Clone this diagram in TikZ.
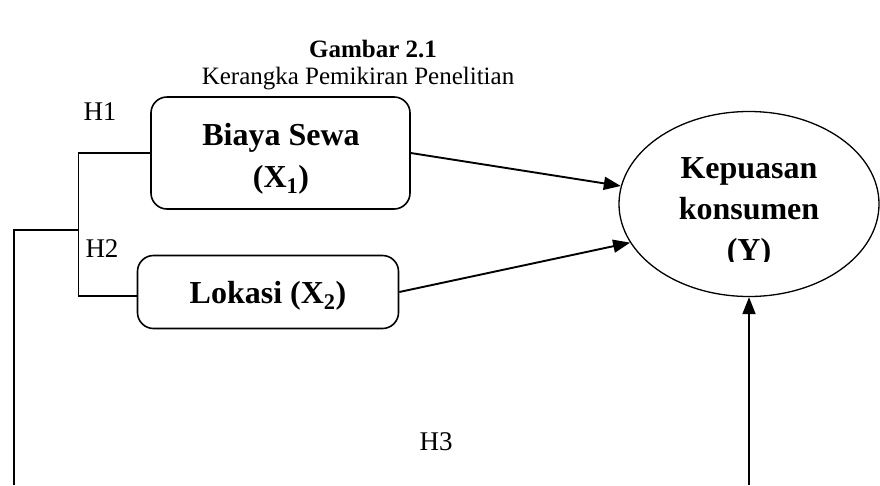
\documentclass[tikz,border=0pt]{standalone}
\usepackage{fontspec}
\setmainfont{Liberation Serif}
\usetikzlibrary{shapes.geometric,arrows.meta}

\tikzset{
  varbox/.style={draw, line width=1.6pt, rounded corners=16pt, inner sep=0pt},
  vartext/.style={align=center, font=\bfseries\fontsize{32}{42}\selectfont, inner sep=0pt},
  hlabel/.style={font=\fontsize{27}{30}\selectfont, inner sep=0pt},
  arr/.style={-{Triangle[length=17pt,width=13pt]}, line width=1.9pt},
  link/.style={line width=1.2pt}
}

\begin{document}
\begin{tikzpicture}[x=1pt,y=-1pt]
\useasboundingbox (0,0) rectangle (880,485);
% title
\node[font=\bfseries\fontsize{25}{28}\selectfont] (title) at (373,49) {Gambar 2.1};
\node[font=\fontsize{25}{28}\selectfont] (subtitle) at (358,79) {Kerangka Pemikiran Penelitian};
% variables
\node[varbox, minimum width=259pt, minimum height=112pt] (b1) at (280.5,153) {};
\node[vartext] (b1t) at (281,159) {Biaya Sewa\\(X\textsubscript{1})};
\node[varbox, minimum width=261pt, minimum height=73pt] (b2) at (268,292) {};
\node[vartext] (b2t) at (268,296) {Lokasi (X\textsubscript{2})};
\node[draw, ellipse, line width=1.3pt, minimum width=260pt, minimum height=185pt] (kep) at (749,204) {};
\begin{scope}
\clip (600,100) rectangle (880,261);
\node[align=center, font=\bfseries\fontsize{32}{41}\selectfont] (kept) at (749,212) {Kepuasan\\konsumen\\(Y)};
\end{scope}
% hypothesis labels
\node[hlabel] (h1) at (100,112) {H1};
\node[hlabel] (h2) at (102,249) {H2};
\node[hlabel] (h3) at (436,442) {H3};
% bracket from both variables
\draw[link] (b1.west) -- ++(-72,0) coordinate (bt) |- ([yshift=-4pt]b2.west);
\coordinate (bj) at (79,230);
\coordinate (h3l) at (14,485);
\coordinate (h3r) at (749,485);
\draw[link] (bj) -- (h3l |- bj) -- (h3l);
% arrows
\draw[arr] (b1.east) -- (kep.172);
\draw[arr] (b2.east) -- (kep.198);
\draw[arr] (h3r) -- (kep.south);
\end{tikzpicture}
\end{document}
